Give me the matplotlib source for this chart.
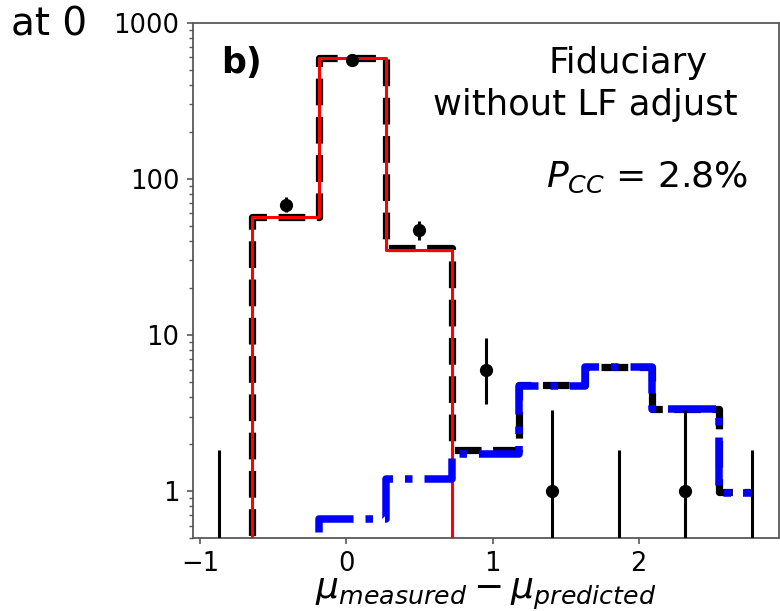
import numpy as np
import matplotlib
matplotlib.use("Agg")
import matplotlib.pyplot as plt

# bin centres of mu_measured - mu_predicted
centers = [-0.870, -0.414, 0.041, 0.497, 0.952, 1.408, 1.863, 2.319, 2.774]

# observed counts with asymmetric (Poisson) errors
counts = [0, 68, 575, 47, 6, 1, 0, 1, 0]
err_lo = [0, 7, 23, 6.5, 2.4, 0.83, 0, 0.83, 0]
err_hi = [1.84, 8, 25, 7.0, 3.6, 2.3, 1.84, 2.3, 1.84]

# model expectations
total = [0.001, 57, 590, 36.2, 1.84, 4.75, 6.27, 3.37, 0.98]
core = [0.001, 57, 590, 35, 0.001, 0.001, 0.001, 0.001, 0.001]
tail = [0.001, 0.001, 0.66, 1.19, 1.72, 4.73, 6.27, 3.36, 0.976]

yticks = [1, 10, 100, 1000]
ytick_labels = ["1", "10", "100", "1000"]
xticks = [-1, 0, 1, 2]

fig = plt.figure(figsize=(7.8, 6.11), dpi=100)
ax = fig.add_axes([0.2468, 0.1195, 0.7513, 0.8433])

ax.step(centers, total, where="mid", color="black", ls="--", lw=5.2, zorder=2)
ax.step(centers, core, where="mid", color="red", lw=2.2, zorder=3)
ax.step(centers, tail, where="mid", color="blue", ls="-.", lw=5.4, zorder=3)
ax.errorbar(centers, counts, yerr=[err_lo, err_hi], fmt="o", color="black",
            ms=8.5, elinewidth=2.2, capsize=0, zorder=4)

ax.set_yscale("log")
ax.set_ylim(0.5, 1000)
ax.set_xlim(-1.052, 2.956)
ax.set_yticks(yticks)
ax.set_yticklabels(ytick_labels)
ax.set_xticks(xticks)

for s in ax.spines.values():
    s.set_color("0.35")
    s.set_linewidth(1.3)
ax.tick_params(which="major", length=4.5, width=1.2, color="0.35",
               labelsize=18.5, pad=5)
ax.tick_params(which="minor", length=2.8, width=1.0, color="0.35")

ax.set_xlabel(r"$\mu_{measured} - \mu_{predicted}$", fontsize=26, labelpad=0)

ax.text(0.049, 0.902, "b)", transform=ax.transAxes, fontsize=25,
        fontweight="bold", va="baseline", ha="left")
ax.text(0.743, 0.902, "Fiduciary", transform=ax.transAxes,
        fontsize=25.5, ha="center", va="baseline")
ax.text(0.67, 0.821, "without LF adjust", transform=ax.transAxes,
        fontsize=25.5, ha="center", va="baseline")
ax.text(0.948, 0.681, r"$P_{CC}$ = 2.8%", transform=ax.transAxes,
        fontsize=26, ha="right", va="baseline")

fig.text(0.0137, 0.9427, "at 0", fontsize=28, va="baseline", ha="left")

fig.savefig("out.png", dpi=100)
